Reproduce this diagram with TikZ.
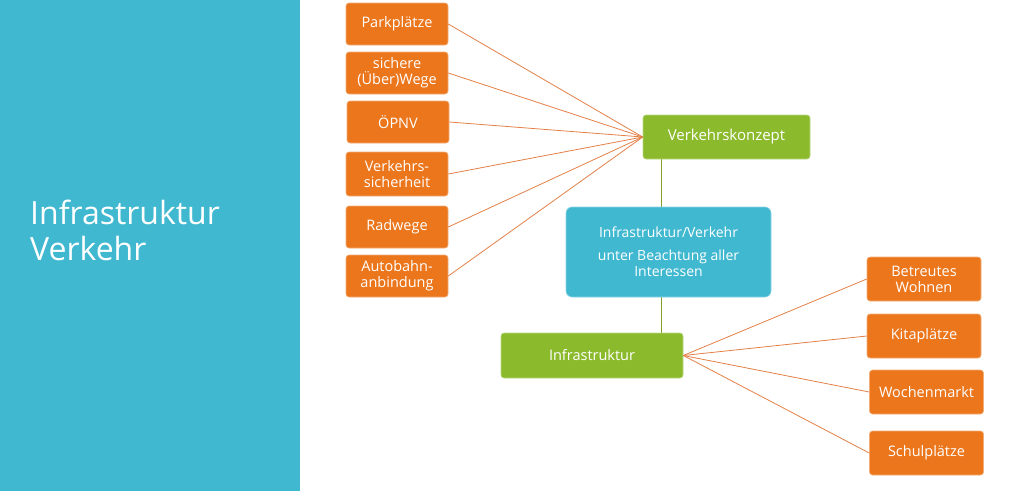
\documentclass[tikz,border=0pt]{standalone}
\usepackage{fontspec}
\setmainfont{Open Sans}
\usepackage{tikz}
\usetikzlibrary{positioning,calc}
\definecolor{panelblue}{RGB}{64,184,208}
\definecolor{boxorange}{RGB}{235,118,28}
\definecolor{boxgreen}{RGB}{140,186,45}
\definecolor{linkorange}{RGB}{226,128,72}
\definecolor{stemgreen}{RGB}{128,160,40}
\tikzset{
  leaf/.style={fill=boxorange,draw=boxorange!60!white,line width=0.6pt,rounded corners=3pt,text=white,
    minimum width=102pt,minimum height=42pt,align=center,inner sep=2pt,font=\fontsize{14.5}{16}\selectfont},
  rleaf/.style={leaf,minimum width=114pt,minimum height=44pt},
  hub/.style={fill=boxgreen,draw=boxgreen!60!white,line width=0.6pt,rounded corners=3pt,text=white,
    minimum height=44pt,align=center,font=\fontsize{14.5}{16}\selectfont},
  core/.style={fill=panelblue,draw=panelblue!60!white,line width=0.6pt,rounded corners=6pt,text=white,
    minimum width=205pt,minimum height=90pt,align=center,font=\fontsize{14}{16}\selectfont},
  link/.style={draw=linkorange,line width=0.8pt},
  stem/.style={draw=stemgreen,line width=0.8pt}
}
\begin{document}
\begin{tikzpicture}[x=1pt,y=-1pt]
  \useasboundingbox (0,0) rectangle (1024,491);
  \fill[panelblue] (0,0) rectangle (300,491);
  \node[anchor=west,align=left,text=white,inner sep=0pt,
    font=\fontsize{32}{36}\selectfont] (title) at (30,230) {Infrastruktur\\Verkehr};

  % stem behind the centre box
  \coordinate (stemtop) at (661,159);
  \coordinate (stembot) at (661,333);
  \draw[stem] (stemtop) -- (stembot);

  \node[hub,minimum width=167pt,font=\fontsize{15}{17}\selectfont] (vk) at (726.5,137) {Verkehrskonzept};
  \node[core] (mid) at (668.5,252) {Infrastruktur/Verkehr\\[7pt]unter Beachtung aller\\Interessen};
  \node[hub,minimum width=182pt,minimum height=45pt] (infra) at (592,355.5) {Infrastruktur};

  % left column
  \node[leaf] (park) at (397,24) {Parkpl\"atze};
  \node[leaf] (wege) at (397,73) {sichere\\(\"Uber)Wege};
  \node[leaf] (oepnv) at (398,122) {\"OPNV};
  \node[leaf,minimum height=44pt] (vsich) at (397,174) {Verkehrs-\\sicherheit};
  \node[leaf] (rad) at (397,227) {Radwege};
  \node[leaf] (auto) at (397,276) {Autobahn-\\anbindung};

  % right column
  \node[rleaf] (betr) at (924,279) {Betreutes\\Wohnen};
  \node[rleaf] (kita) at (924,336) {Kitapl\"atze};
  \node[rleaf] (woch) at (926.5,392) {Wochenmarkt};
  \node[rleaf] (schul) at (926.5,453) {Schulpl\"atze};

  \foreach \n in {park,wege,oepnv,vsich,rad,auto}
    \draw[link] (\n.east) -- (vk.west);
  \foreach \n in {betr,kita,woch,schul}
    \draw[link] (infra.east) -- (\n.west);
\end{tikzpicture}
\end{document}
